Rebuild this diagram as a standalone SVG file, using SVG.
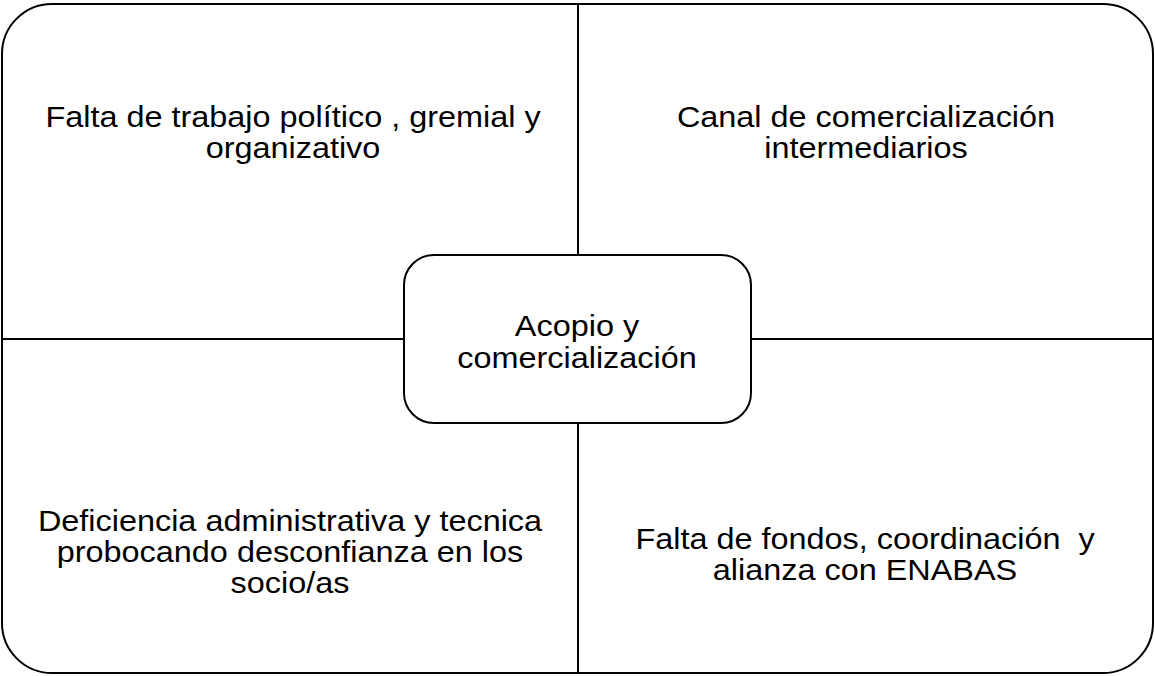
<svg xmlns="http://www.w3.org/2000/svg" width="1155" height="676" viewBox="0 0 1155 676">
<style>
.shape{fill:#fff;stroke:#000;stroke-width:2}
.ln{stroke:#000;stroke-width:2;fill:none}
text{font-family:"Liberation Sans",Arial,sans-serif;font-size:30px;fill:#000;text-anchor:middle}
</style>
<rect x="0" y="0" width="1155" height="676" fill="#fff"/>
<g id="frame"><rect class="shape" x="2" y="4" width="1151" height="669" rx="50" ry="50"/></g>
<g id="connectors">
<line class="ln" x1="578" y1="4" x2="578" y2="255"/>
<line class="ln" x1="578" y1="423" x2="578" y2="673"/>
<line class="ln" x1="2" y1="339" x2="404" y2="339"/>
<line class="ln" x1="751" y1="339" x2="1153" y2="339"/>
</g>
<g id="center"><rect class="shape" x="404" y="255" width="347" height="168" rx="30" ry="30"/>
<g transform="translate(577,0) scale(1.08,1)"><text x="0" y="336">Acopio y</text><text x="0" y="368">comercialización</text></g></g>
<g id="tl" transform="translate(293,0) scale(1.08,1)"><text x="0" y="127">Falta de trabajo político , gremial y</text><text x="0" y="158">organizativo</text></g>
<g id="tr" transform="translate(866,0) scale(1.08,1)"><text x="0" y="127">Canal de comercialización</text><text x="0" y="158">intermediarios</text></g>
<g id="bl" transform="translate(290,0) scale(1.08,1)"><text x="0" y="531">Deficiencia administrativa y tecnica</text><text x="0" y="562">probocando desconfianza en los</text><text x="0" y="593">socio/as</text></g>
<g id="br" transform="translate(865,0) scale(1.08,1)"><text x="0" y="549" xml:space="preserve">Falta de fondos, coordinación  y</text><text x="0" y="580">alianza con ENABAS</text></g>
</svg>
